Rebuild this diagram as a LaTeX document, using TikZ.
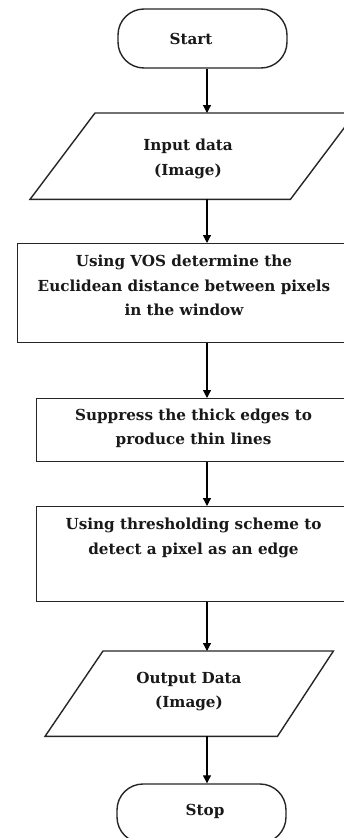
\documentclass[tikz,border=0pt]{standalone}
\usepackage{fontspec}
\setmainfont{DejaVu Serif}
\usetikzlibrary{arrows.meta,calc}
\tikzset{
  shapeline/.style={draw=black!85, line width=1.4pt},
  termbox/.style={shapeline, rectangle, rounded corners=26pt, inner sep=0pt},
  procbox/.style={shapeline, rectangle, inner sep=0pt, anchor=north west},
  iobox/.style={rectangle, inner sep=0pt, anchor=north west},
  lbl/.style={font=\bfseries\fontsize{15.2}{24.5}\selectfont, align=center, inner sep=0pt, text=black!90},
  flow/.style={draw=black, line width=1.2pt, -{Triangle[length=8pt,width=8pt]}}
}
\begin{document}
\begin{tikzpicture}[x=1pt,y=-1pt]
\useasboundingbox (0,0) rectangle (344,838);
\clip (0,0) rectangle (344,838);
\fill[white] (0,0) rectangle (344,838);
\coordinate (col) at (207,0);
% shapes
\node[termbox, minimum width=169pt, minimum height=59pt] (start) at (202.5,38.5) {};
\node[iobox, minimum width=325pt, minimum height=86pt] (input) at (30,113) {};
\draw[shapeline, line join=miter] ($(input.north west)+(65,0)$) -- (input.north east) -- ($(input.south east)+(-65,0)$) -- (input.south west) -- cycle;
\node[procbox, minimum width=336pt, minimum height=99pt] (vos) at (17,243) {};
\node[procbox, minimum width=315pt, minimum height=63pt] (supp) at (36,398) {};
\node[procbox, minimum width=315pt, minimum height=95pt] (thr) at (36,506) {};
\node[iobox, minimum width=288pt, minimum height=85pt] (output) at (45,651) {};
\draw[shapeline, line join=miter] ($(output.north west)+(58,0)$) -- (output.north east) -- ($(output.south east)+(-56,0)$) -- (output.south west) -- cycle;
\node[termbox, minimum width=169pt, minimum height=59pt] (stop) at (201.5,813.5) {};
% labels
\node[lbl] (startlbl) at (191,39) {Start};
\node[lbl] (inputlbl) at (188,159) {Input data\\(Image)};
\node[lbl] (voslbl) at (184,285.5) {Using VOS determine the\\Euclidean distance between pixels\\in the window};
\node[lbl] (supplbl) at (193.5,428.5) {Suppress the thick edges to\\produce thin lines};
\node[lbl] (thrlbl) at (193.5,538) {Using thresholding scheme to\\detect a pixel as an edge};
\node[lbl] (outputlbl) at (189,691.5) {Output Data\\(Image)};
\node[lbl] (stoplbl) at (205,811.5) {Stop};
% connectors
\draw[flow] (start.south -| col) -- (input.north -| col);
\draw[flow] (input.south -| col) -- (vos.north -| col);
\draw[flow] (vos.south -| col) -- (supp.north -| col);
\draw[flow] (supp.south -| col) -- (thr.north -| col);
\draw[flow] (thr.south -| col) -- (output.north -| col);
\draw[flow] (output.south -| col) -- (stop.north -| col);
\end{tikzpicture}
\end{document}
